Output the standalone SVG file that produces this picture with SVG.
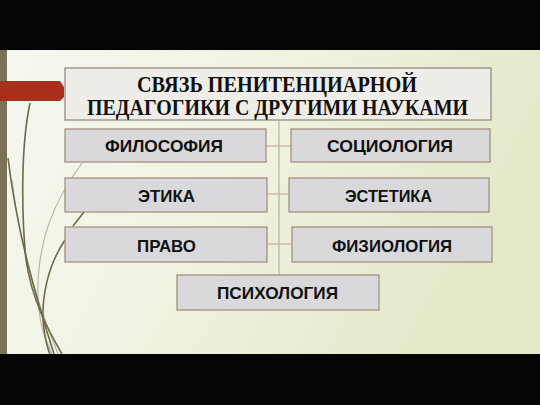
<svg xmlns="http://www.w3.org/2000/svg" width="540" height="405" viewBox="0 0 540 405">
<defs>
<linearGradient id="bg" x1="0" y1="0" x2="1" y2="0.3">
<stop offset="0" stop-color="#f6f7f0"/>
<stop offset="0.5" stop-color="#f0f3e2"/>
<stop offset="1" stop-color="#e2e9c8"/>
</linearGradient>
<style>
.box{fill:#d9d9dc;stroke:#a08878;stroke-width:1.2}
.title{fill:#efede7;stroke:#8c8478;stroke-width:1.2}
.lbl{font-family:"Liberation Sans",Arial,sans-serif;font-weight:bold;font-size:17px;fill:#111;text-anchor:middle}
.ttl{font-family:"Liberation Serif","Times New Roman",serif;font-weight:bold;font-size:23px;fill:#111;text-anchor:middle}
.con{stroke:#b8a496;stroke-width:1;fill:none}
.deco{fill:none;stroke:#6e6a4c;stroke-width:1.6}
.decol{fill:none;stroke:#b9b8a2;stroke-width:1.2}
</style>
</defs>
<rect x="0" y="0" width="540" height="405" fill="#040404"/>
<rect x="0" y="50" width="540" height="304" fill="url(#bg)"/>
<g id="decor">
<path class="decol" d="M82,163 C55,200 36,240 38,300 C40,330 48,345 52,354"/>
<path class="decol" d="M12,180 C20,250 40,310 58,354"/>
<path class="deco" d="M8,158 C18,240 40,310 54,354"/>
<path class="deco" d="M30,103 C20,150 22,220 26,260 C32,300 48,330 62,354"/>
<path class="deco" d="M84,212 L73,226"/>
<path class="deco" d="M65,240 C48,265 40,300 44,330 C46,342 48,350 50,354"/>
<rect x="0" y="50" width="7" height="304" fill="#7a7256"/>
<path d="M0,81 L60,81 L64,87 L64,97 L60,101 L0,101 Z" fill="#a8301a"/>
</g>
<g id="connectors">
<line class="con" x1="279" y1="120" x2="279" y2="275"/>
<line class="con" x1="266" y1="146" x2="291" y2="146"/>
<line class="con" x1="267" y1="194" x2="289" y2="194"/>
<line class="con" x1="267" y1="244" x2="292" y2="244"/>
</g>
<g id="title">
<rect class="title" x="65" y="68" width="426" height="52"/>
<text class="ttl" x="277" y="91.5" textLength="280" lengthAdjust="spacingAndGlyphs">СВЯЗЬ ПЕНИТЕНЦИАРНОЙ</text>
<text class="ttl" x="277.5" y="115" textLength="381" lengthAdjust="spacingAndGlyphs">ПЕДАГОГИКИ С ДРУГИМИ НАУКАМИ</text>
</g>
<g id="filosofia">
<rect class="box" x="65" y="129" width="201" height="33"/>
<text class="lbl" x="164" y="152" textLength="118" lengthAdjust="spacingAndGlyphs">ФИЛОСОФИЯ</text>
</g>
<g id="sociologia">
<rect class="box" x="291" y="129" width="199" height="33"/>
<text class="lbl" x="390" y="152" textLength="126" lengthAdjust="spacingAndGlyphs">СОЦИОЛОГИЯ</text>
</g>
<g id="etika">
<rect class="box" x="65" y="178" width="202" height="34"/>
<text class="lbl" x="166.5" y="201.5" textLength="57" lengthAdjust="spacingAndGlyphs">ЭТИКА</text>
</g>
<g id="estetika">
<rect class="box" x="289" y="178" width="200" height="34"/>
<text class="lbl" x="388.5" y="201.5" textLength="87" lengthAdjust="spacingAndGlyphs">ЭСТЕТИКА</text>
</g>
<g id="pravo">
<rect class="box" x="65" y="227" width="202" height="35"/>
<text class="lbl" x="166.5" y="251.5" textLength="59" lengthAdjust="spacingAndGlyphs">ПРАВО</text>
</g>
<g id="fiziologia">
<rect class="box" x="292" y="227" width="200" height="35"/>
<text class="lbl" x="392" y="251.5" textLength="120" lengthAdjust="spacingAndGlyphs">ФИЗИОЛОГИЯ</text>
</g>
<g id="psihologia">
<rect class="box" x="177" y="275" width="202" height="35"/>
<text class="lbl" x="277.5" y="299" textLength="121" lengthAdjust="spacingAndGlyphs">ПСИХОЛОГИЯ</text>
</g>
</svg>
